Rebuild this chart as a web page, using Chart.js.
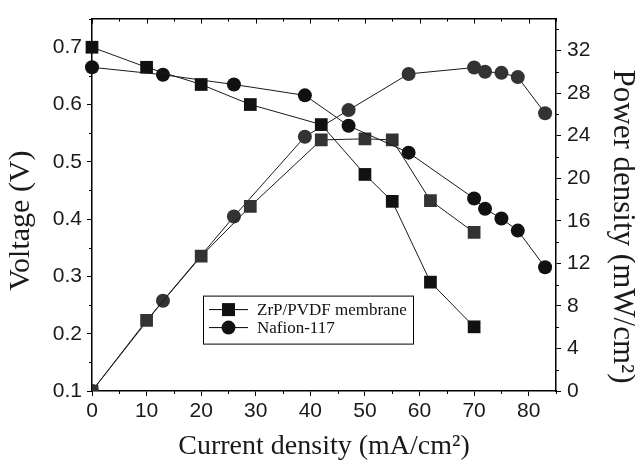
<!DOCTYPE html>
<html>
<head>
<meta charset="utf-8">
<script src="https://cdn.jsdelivr.net/npm/chart.js@4.4.0/dist/chart.umd.min.js"></script>
<style>
  body { margin: 0; background: #fff; }
  canvas { display: block; }
</style>
</head>
<body>
<canvas id="grafica" width="635" height="463"></canvas>
<script>
// Densidad de corriente (mA/cm2) de cada membrana
const corrienteZrP = [0, 10, 20, 29, 42, 50, 55, 62, 70];
const corrienteNafion = [0, 13, 26, 39, 47, 58, 70, 72, 75, 78, 83];

// Voltaje (V) - eje izquierdo
const voltajeZrP = [0.70, 0.665, 0.635, 0.60, 0.565, 0.478, 0.431, 0.290, 0.212];
const voltajeNafion = [0.665, 0.652, 0.635, 0.616, 0.563, 0.516, 0.436, 0.418, 0.401, 0.380, 0.316];

// Densidad de potencia (mW/cm2) - eje derecho
const potenciaZrP = [0, 6.63, 12.67, 17.36, 23.6, 23.7, 23.6, 17.9, 14.9];
const potenciaNafion = [0, 8.48, 16.4, 23.9, 26.4, 29.8, 30.4, 30.0, 29.9, 29.5, 26.1];

const etiquetas = ['ZrP/PVDF membrane', 'Nafion-117'];

// Limites de los ejes
const rangoX = [0, 85];
const rangoVoltaje = [0.1, 0.75];
const rangoPotencia = [0, 35];

const puntos = (xs, ys) => xs.map((x, i) => ({ x: x, y: ys[i] }));

const fuenteSerif = 'Liberation Serif, Times New Roman, serif';
const fuenteSans = 'Liberation Sans, Arial, sans-serif';

// Ticks menores (y los del eje superior, hacia dentro)
const ticksMenores = {
    id: 'ticksMenores',
    afterDraw(chart) {
        const { ctx, chartArea: a, scales } = chart;
        ctx.save();
        ctx.strokeStyle = '#000';
        ctx.lineWidth = 1;
        const linea = (x1, y1, x2, y2) => {
            ctx.beginPath(); ctx.moveTo(x1, y1); ctx.lineTo(x2, y2); ctx.stroke();
        };
        const sx = scales.x;
        for (let v = sx.min; v <= sx.max + 1e-9; v += 5) {
            const px = Math.round(sx.getPixelForValue(v)) + 0.5;
            const mayor = Math.abs(v % 10) < 1e-9;
            linea(px, a.top, px, a.top + (mayor ? 5 : 3));
            if (!mayor) linea(px, a.bottom, px, a.bottom + 3);
        }
        const sy = scales.y;
        for (let v = sy.min + 0.05; v < sy.max; v += 0.1) {
            const py = Math.round(sy.getPixelForValue(v)) + 0.5;
            linea(a.left, py, a.left - 3, py);
        }
        const sy2 = scales.y2;
        for (let v = sy2.min + 2; v < sy2.max; v += 4) {
            const py = Math.round(sy2.getPixelForValue(v)) + 0.5;
            linea(a.right, py, a.right + 3, py);
        }
        ctx.restore();
    }
};

// Titulos de los ejes verticales (un poco por debajo del centro, como en el original)
const titulosVerticales = {
    id: 'titulosVerticales',
    afterDraw(chart) {
        const { ctx, chartArea: a } = chart;
        ctx.save();
        ctx.fillStyle = '#1a1a1a';
        ctx.textAlign = 'center';
        ctx.textBaseline = 'middle';
        ctx.font = '30px ' + fuenteSerif;
        ctx.translate(21, a.top + 202);
        ctx.rotate(-Math.PI / 2);
        ctx.fillText('Voltage (V)', 0, 0);
        ctx.restore();

        ctx.save();
        ctx.fillStyle = '#1a1a1a';
        ctx.textAlign = 'center';
        ctx.textBaseline = 'middle';
        ctx.font = '31px ' + fuenteSerif;
        ctx.translate(a.right + 66, a.top + 208);
        ctx.rotate(Math.PI / 2);
        ctx.fillText('Power density (mW/cm²)', 0, 0);
        ctx.restore();
    }
};

// Leyenda dentro del area del grafico
const leyenda = {
    id: 'leyenda',
    afterDraw(chart) {
        const { ctx, chartArea: a } = chart;
        const x0 = a.left + 111, y0 = a.top + 277;
        ctx.save();
        ctx.strokeStyle = '#000';
        ctx.lineWidth = 1;
        ctx.strokeRect(x0 + 0.5, y0 + 0.5, 210, 48);
        ctx.font = '17px ' + fuenteSerif;
        ctx.textBaseline = 'middle';
        ctx.fillStyle = '#111';
        etiquetas.forEach((txt, i) => {
            const y = y0 + 14 + i * 18;
            ctx.beginPath(); ctx.moveTo(x0 + 6, y); ctx.lineTo(x0 + 45, y); ctx.stroke();
            if (i === 0) {
                ctx.fillRect(x0 + 19, y - 6.5, 13, 13);
            } else {
                ctx.beginPath(); ctx.arc(x0 + 25.5, y, 7, 0, Math.PI * 2); ctx.fill();
            }
            ctx.fillText(txt, x0 + 54, y + 1);
        });
        ctx.restore();
    }
};

const ctx = document.getElementById('grafica').getContext('2d');

const miGrafica = new Chart(ctx, {
    type: 'scatter',
    data: {
        datasets: [
            {
                label: etiquetas[0] + ' V',
                data: puntos(corrienteZrP, voltajeZrP),
                yAxisID: 'y',
                showLine: true,
                borderColor: '#1a1a1a',
                borderWidth: 1,
                backgroundColor: '#111',
                pointStyle: 'rect',
                pointRadius: 9,
                pointBorderWidth: 0,
                clip: false
            },
            {
                label: etiquetas[1] + ' V',
                data: puntos(corrienteNafion, voltajeNafion),
                yAxisID: 'y',
                showLine: true,
                borderColor: '#1a1a1a',
                borderWidth: 1,
                backgroundColor: '#111',
                pointStyle: 'circle',
                pointRadius: 7,
                pointBorderWidth: 0,
                clip: false
            },
            {
                label: etiquetas[0] + ' P',
                data: puntos(corrienteZrP, potenciaZrP),
                yAxisID: 'y2',
                showLine: true,
                borderColor: '#1a1a1a',
                borderWidth: 1,
                backgroundColor: '#333',
                pointStyle: 'rect',
                pointRadius: 9,
                pointBorderWidth: 0
            },
            {
                label: etiquetas[1] + ' P',
                data: puntos(corrienteNafion, potenciaNafion),
                yAxisID: 'y2',
                showLine: true,
                borderColor: '#1a1a1a',
                borderWidth: 1,
                backgroundColor: '#333',
                pointStyle: 'circle',
                pointRadius: 7,
                pointBorderWidth: 0
            }
        ]
    },
    options: {
        responsive: false,
        animation: false,
        layout: { padding: 0 },
        plugins: {
            legend: { display: false },
            tooltip: { enabled: false }
        },
        scales: {
            x: {
                type: 'linear',
                position: 'bottom',
                min: rangoX[0],
                max: rangoX[1],
                afterFit: s => { s.height = 72; },
                ticks: {
                    stepSize: 10,
                    includeBounds: false,
                    color: '#1a1a1a',
                    padding: 3,
                    maxRotation: 0,
                    font: { family: fuenteSans, size: 21 }
                },
                grid: { drawOnChartArea: false, tickLength: 5, color: '#000' },
                border: { color: '#000', width: 1.5 },
                title: {
                    display: true,
                    text: 'Current density (mA/cm²)',
                    color: '#1a1a1a',
                    font: { family: fuenteSerif, size: 28, lineHeight: 1 },
                    padding: { top: 0, bottom: 2 }
                }
            },
            x2: {
                type: 'linear',
                position: 'top',
                min: rangoX[0],
                max: rangoX[1],
                afterFit: s => { s.height = 14; },
                ticks: { display: false },
                grid: { drawOnChartArea: false, drawTicks: false },
                border: { color: '#000', width: 1.5 }
            },
            y: {
                type: 'linear',
                position: 'left',
                min: rangoVoltaje[0],
                max: rangoVoltaje[1],
                afterFit: s => { s.width = 92; },
                ticks: {
                    stepSize: 0.1,
                    includeBounds: false,
                    color: '#1a1a1a',
                    padding: 5,
                    font: { family: fuenteSans, size: 21 }
                },
                grid: { drawOnChartArea: false, tickLength: 5, color: '#000' },
                border: { color: '#000', width: 1.5 }
            },
            y2: {
                type: 'linear',
                position: 'right',
                min: rangoPotencia[0],
                max: rangoPotencia[1],
                afterFit: s => { s.width = 79; },
                ticks: {
                    stepSize: 4,
                    includeBounds: false,
                    color: '#1a1a1a',
                    padding: 6,
                    font: { family: fuenteSans, size: 21 }
                },
                grid: { drawOnChartArea: false, tickLength: 5, color: '#000' },
                border: { color: '#000', width: 1.5 }
            }
        }
    },
    plugins: [ticksMenores, titulosVerticales, leyenda]
});
</script>
</body>
</html>
